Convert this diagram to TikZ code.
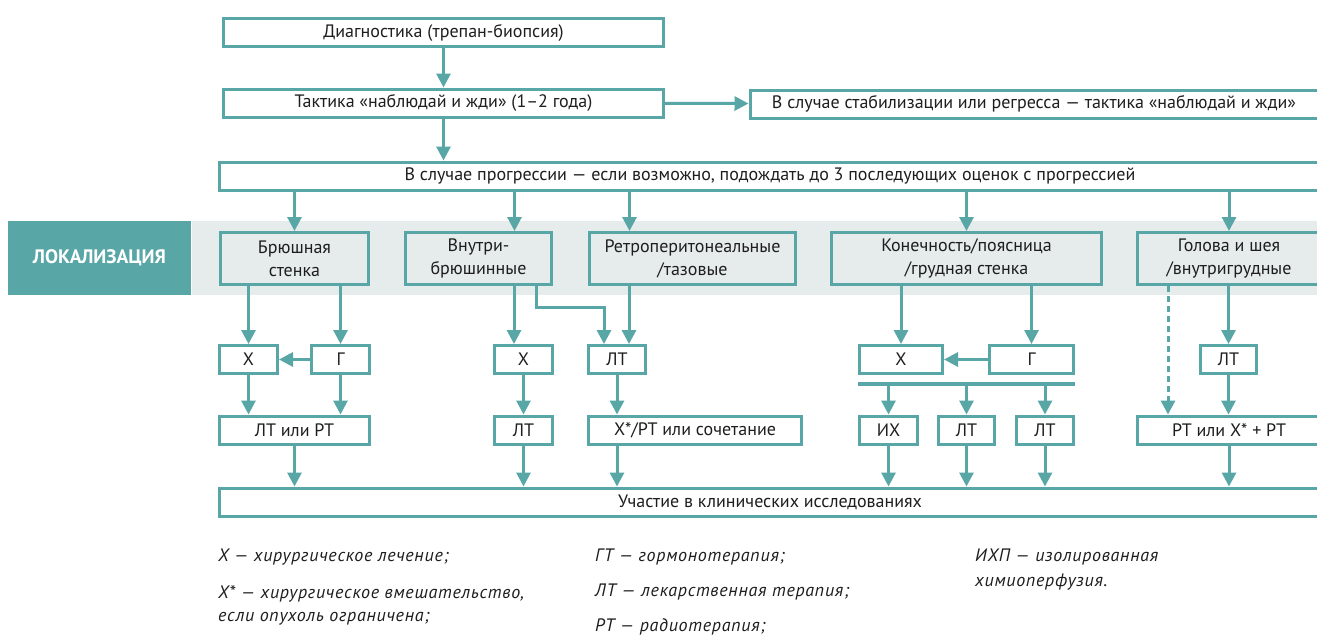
\documentclass[tikz,border=0pt]{standalone}
\usepackage{fontspec}
\setmainfont{PT Sans}
\usepackage{tikz}
\usetikzlibrary{arrows.meta, positioning}

\definecolor{tealc}{RGB}{88,166,166}
\definecolor{bandc}{RGB}{230,236,236}
\definecolor{textc}{RGB}{30,30,30}

\tikzset{
  box/.style={draw=tealc, line width=3pt, fill=white, minimum height=28pt, inner sep=0pt,
    text=textc, font=\fontsize{18}{21}\selectfont},
  locbox/.style={box, fill=bandc, minimum height=52pt, align=center,
    font=\fontsize{18}{23}\selectfont},
  arr/.style={draw=tealc, line width=3pt, -{Triangle[length=14pt,width=14pt]}},
  note/.style={anchor=west, inner sep=0pt, text=textc,
    font=\fontsize{18}{21}\selectfont\itshape\addfontfeatures{LetterSpace=4}}
}

\begin{document}
\begin{tikzpicture}[x=1pt, y=-1pt]
\clip (0,0) rectangle (1317,635);
\fill[white] (0,0) rectangle (1317,635);

% band of localisations
\fill[bandc] (192,221) rectangle (1330,295);
\fill[tealc] (8,221) rectangle (191,295);
\node[text=white, font=\fontsize{19.5}{22}\selectfont\bfseries] (lokal) at (99.5,258) {ЛОКАЛИЗАЦИЯ};

\node[box, minimum width=440] (diag) at (443.5,32.5) {Диагностика (трепан-биопсия)};
\node[box, minimum width=440] (takt) at (443.5,103) {Тактика «наблюдай и жди» (1–2 года)};
\node[box, minimum width=568] (stab) at (1034,104) {В случае стабилизации или регресса — тактика «наблюдай и жди»};
\node[box, minimum width=1101] (prog) at (770,176) {В случае прогрессии — если возможно, подождать до 3 последующих оценок с прогрессией};

\node[locbox, minimum width=148] (loc1) at (294.5,258.5) {Брюшная\\стенка};
\node[locbox, minimum width=146] (loc2) at (478.5,258.5) {Внутри-\\брюшинные};
\node[locbox, minimum width=206] (loc3) at (692.5,258.5) {Ретроперитонеальные\\/тазовые};
\node[locbox, minimum width=270] (loc4) at (966.5,258.5) {Конечность/поясница\\/грудная стенка};
\node[locbox, minimum width=183] (loc5) at (1229,258.5) {Голова и шея\\/внутригрудные};

\node[box, minimum width=58] (x1) at (248.5,359.5) {Х};
\node[box, minimum width=58] (g1) at (340.5,359.5) {Г};
\node[box, minimum width=58] (x2) at (523.5,359.5) {Х};
\node[box, minimum width=57] (lt3) at (617,359.5) {ЛТ};
\node[box, minimum width=83] (x4) at (901,359.5) {Х};
\node[box, minimum width=84] (g4) at (1031.5,359.5) {Г};
\node[box, minimum width=56] (lt5) at (1228.5,359.5) {ЛТ};

\node[box, minimum width=150] (ltrt1) at (294.5,430) {ЛТ или РТ};
\node[box, minimum width=58] (lt2) at (523.5,430) {ЛТ};
\node[box, minimum width=213] (xrt3) at (695,430) {Х*/РТ или сочетание};
\node[box, minimum width=58] (ix4) at (888.5,430) {ИХ};
\node[box, minimum width=56] (lt4a) at (966.5,430) {ЛТ};
\node[box, minimum width=57] (lt4b) at (1045,430) {ЛТ};
\node[box, minimum width=183] (rt5) at (1229,430) {РТ или Х* + РТ};

\node[box, minimum width=1101] (part) at (770,502) {Участие в клинических исследованиях};

% top of the scheme
\draw[arr] (diag) -- (takt);
\draw[arr] (takt) -- (stab);
\draw[arr] (takt) -- (takt |- prog.north);
\draw[arr] (loc1 |- prog.south) -- (loc1);
\draw[arr] ([xshift=36]loc2.north |- prog.south) -- ([xshift=36]loc2.north);
\draw[arr] ([xshift=-63]loc3.north |- prog.south) -- ([xshift=-63]loc3.north);
\draw[arr] (loc4 |- prog.south) -- (loc4);
\draw[arr] (loc5 |- prog.south) -- (loc5);

% abdominal wall
\draw[arr] (x1 |- loc1.south) -- (x1);
\draw[arr] (g1 |- loc1.south) -- (g1);
\draw[arr] (g1) -- (x1);
\draw[arr] (x1) -- (x1 |- ltrt1.north);
\draw[arr] (g1) -- (g1 |- ltrt1.north);

% intraperitoneal, retroperitoneal
\draw[arr] ([xshift=-9.5]x2.north |- loc2.south) -- ([xshift=-9.5]x2.north);
\draw[arr] ([xshift=58]loc2.south) -- ++(0,21.5) -| ([xshift=-13]lt3.north);
\draw[arr] ([xshift=12]lt3.north |- loc3.south) -- ([xshift=12]lt3.north);
\draw[arr] (x2) -- (lt2);
\draw[arr] (lt3) -- (lt3 |- xrt3.north);

% extremity
\draw[arr] (x4 |- loc4.south) -- (x4);
\draw[arr] (g4 |- loc4.south) -- (g4);
\draw[arr] (g4) -- (x4);
\coordinate (barl) at ([yshift=-8.5]x4.south west);
\coordinate (barr) at ([yshift=-8.5]g4.south east);
\draw[tealc, line width=4pt] (barl) -- (barr);
\draw[arr] (ix4 |- barl) -- (ix4);
\draw[arr] (lt4a |- barl) -- (lt4a);
\draw[arr] (lt4b |- barl) -- (lt4b);

% head and neck
\draw[arr, dash pattern=on 6pt off 4pt] ([xshift=-61]rt5.north |- loc5.south) -- ([xshift=-61]rt5.north);
\draw[arr] (lt5 |- loc5.south) -- (lt5);
\draw[arr] (lt5) -- (lt5 |- rt5.north);

% to clinical trials
\draw[arr] (ltrt1) -- (ltrt1 |- part.north);
\draw[arr] (lt2) -- (lt2 |- part.north);
\draw[arr] (lt3 |- xrt3.south) -- (lt3 |- part.north);
\draw[arr] (ix4) -- (ix4 |- part.north);
\draw[arr] (lt4a) -- (lt4a |- part.north);
\draw[arr] (lt4b) -- (lt4b |- part.north);
\draw[arr] (rt5) -- (rt5 |- part.north);

% legend
\node[note] (n1) at (218,557) {Х — хирургическое лечение;};
\node[note] (n2) at (218,594) {Х* — хирургическое вмешательство,};
\node[note] (n3) at (218,619) {если опухоль ограничена;};
\node[note] (n4) at (595,557) {ГТ — гормонотерапия;};
\node[note] (n5) at (595,592) {ЛТ — лекарственная терапия;};
\node[note] (n6) at (595,627) {РТ — радиотерапия;};
\node[note] (n7) at (975,557) {ИХП — изолированная};
\node[note] (n8) at (975,582) {химиоперфузия.};
\end{tikzpicture}
\end{document}
